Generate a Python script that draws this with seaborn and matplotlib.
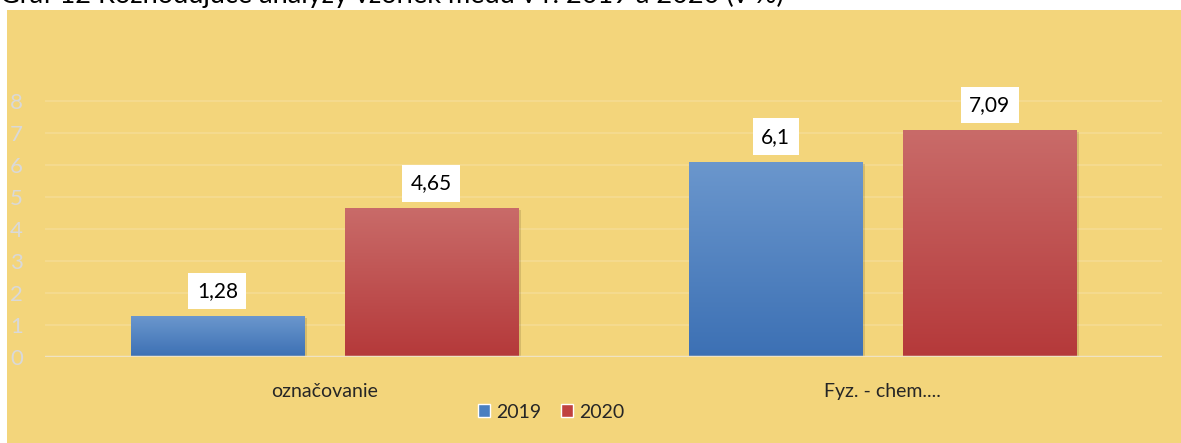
import numpy as np
import pandas as pd
import matplotlib
matplotlib.use("Agg")
import matplotlib.pyplot as plt
import matplotlib.patheffects as pe
from matplotlib.colors import LinearSegmentedColormap
from matplotlib.patches import Rectangle, Patch
import seaborn as sns

# ---- data ----
categories = ["označovanie", "Fyz. - chem...."]
years = ["2019", "2020"]
values_2019 = [1.28, 6.1]
values_2020 = [4.65, 7.09]
yticks = [0, 1, 2, 3, 4, 5, 6, 7, 8]
title = "Graf 12 Rozhodujúce analýzy vzoriek medu v r. 2019 a 2020 (v %)"

df = pd.DataFrame({
    "kategoria": categories * 2,
    "rok": [years[0]] * len(categories) + [years[1]] * len(categories),
    "hodnota": values_2019 + values_2020,
})

sns.set_theme(style="white")
plt.rcParams["font.family"] = ["Lato", "DejaVu Sans"]

BG = "#f3d57b"
palette = {"2019": "#4a7fc0", "2020": "#c0413f"}
grad = {
    "2019": ("#6b97cd", "#3c70b4"),
    "2020": ("#c96b69", "#b5393a"),
}

fig = plt.figure(figsize=(11.81, 4.43), dpi=100)
fig.patch.set_facecolor("white")
# yellow panel
panel = Rectangle((7 / 1181, 0), 1 - 7 / 1181, 1 - 10 / 443,
                  transform=fig.transFigure, facecolor=BG,
                  edgecolor="none", zorder=-5)
fig.patches.append(panel)

ax = fig.add_axes([45 / 1181, 1 - 357 / 443, (1162 - 45) / 1181, (357 - 69) / 443])
ax.set_facecolor("none")
ax.set_zorder(1)

sns.barplot(data=df, x="kategoria", y="hodnota", hue="rok", order=categories,
            hue_order=years, palette=palette, width=0.766, gap=0.19,
            linewidth=0, ax=ax, legend=False, zorder=3)

ax.set_ylim(0, 9)
ax.set_yticks(yticks)
ax.set_yticklabels([str(t) for t in yticks], color="#d9d9d9", fontsize=16)
ax.tick_params(axis="y", length=0, pad=16)
ax.tick_params(axis="x", length=0, pad=19, labelsize=14)
ax.set_xlabel("")
ax.set_ylabel("")
for s in ax.spines.values():
    s.set_visible(False)

# gridlines
for t in yticks[1:]:
    ax.axhline(t, color="#f5dc92", lw=1.2, zorder=1)
ax.axhline(0, color="#efe3c3", lw=2.5, zorder=5)

# gradients + shadows + labels
cmaps = {y: LinearSegmentedColormap.from_list(y, [grad[y][1], grad[y][0]]) for y in years}
patches = [p for p in ax.patches if isinstance(p, Rectangle)]
labels_order = []
for y in years:
    for c in categories:
        labels_order.append(y)
for p, yr, val in zip(patches, labels_order, values_2019 + values_2020):
    x0, y0 = p.get_x(), p.get_y()
    w, h = p.get_width(), p.get_height()
    p.set_path_effects([pe.SimplePatchShadow(offset=(2, -1.5), alpha=0.18, shadow_rgbFace="#5a4a20"), pe.Normal()])
    g = np.linspace(0, 1, 256).reshape(-1, 1)
    im = ax.imshow(g, cmap=cmaps[yr], origin="lower", aspect="auto",
                   extent=(x0, x0 + w, y0, y0 + h), zorder=4)
    im.set_clip_path(p)
    txt = f"{val:g}".replace(".", ",")
    ax.annotate(txt, xy=(x0 + w / 2, y0 + h), xytext=(0, 18), textcoords="offset points",
                ha="center", va="center", fontsize=15, color="black", zorder=6,
                bbox=dict(boxstyle="square,pad=0.4", facecolor="white", edgecolor="none"))

ax.set_xlim(-0.5, 1.5)
ax.set_ylim(0, 9)

handles = [Patch(facecolor=palette[y], label=y) for y in years]
fig.legend(handles=handles, loc="center", bbox_to_anchor=(551 / 1181, 1 - 412 / 443),
           ncol=2, frameon=False, fontsize=14, handlelength=0.65, handleheight=0.65,
           handletextpad=0.3, columnspacing=1.0)

fig.text(0.0, 1 - 3 / 443, title, ha="left", va="baseline", fontsize=19.5, color="black")

fig.savefig("out.png", dpi=100, facecolor=fig.get_facecolor())
